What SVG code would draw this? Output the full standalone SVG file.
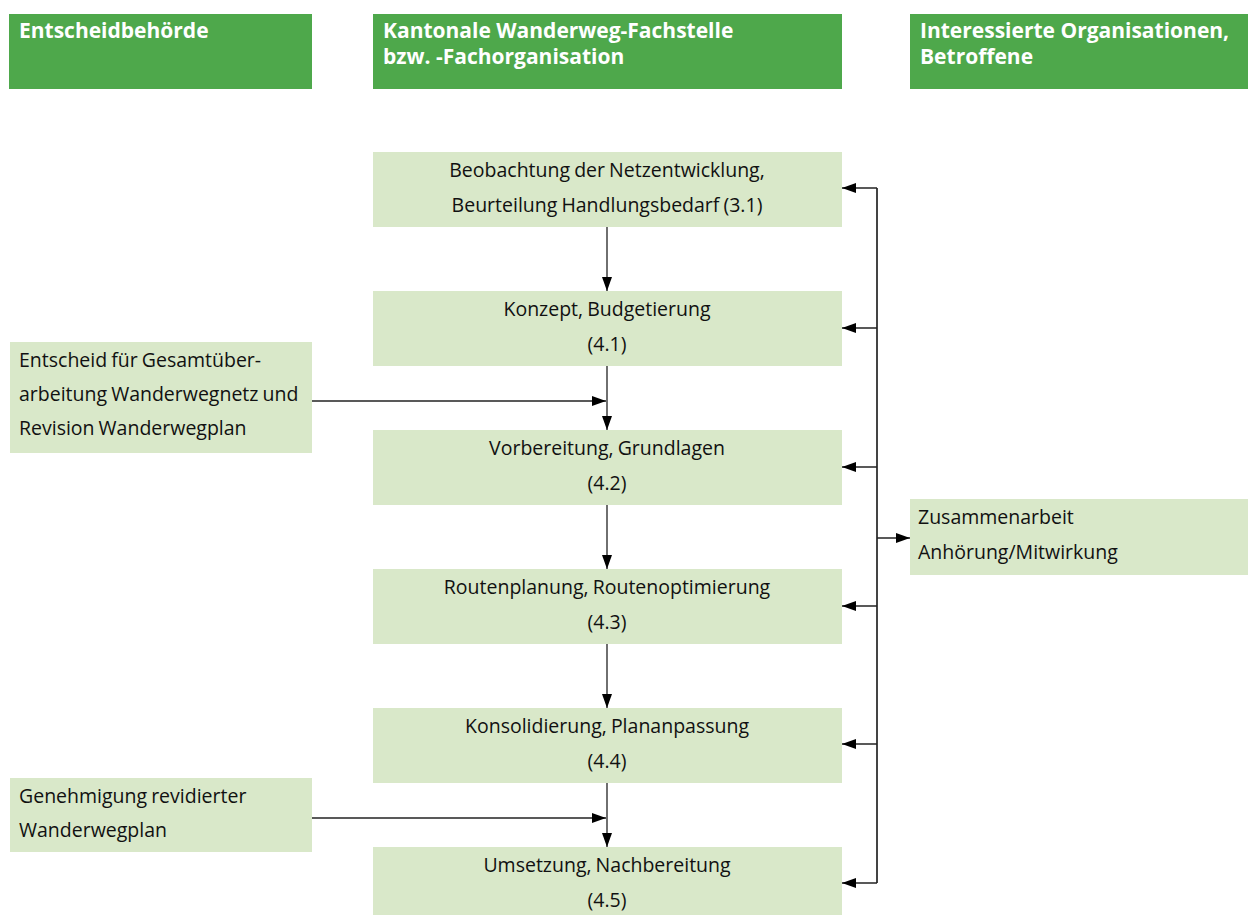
<svg xmlns="http://www.w3.org/2000/svg" width="1248" height="915" viewBox="0 0 1248 915">
<style>
.hdr{fill:#4ea84b}
.hdrt{font-family:"Open Sans","Liberation Sans",sans-serif;font-weight:bold;font-size:21px;fill:#fff}
.box{fill:#d9e8c9}
.t{font-family:"Open Sans","Liberation Sans",sans-serif;font-size:19.5px;fill:#111;word-spacing:-1px}
.c{text-anchor:middle}
.ln{stroke:#222;stroke-width:1.3;fill:none}
.vl{stroke:#444;stroke-width:2;fill:none}
</style>
<defs>
<marker id="ah" markerWidth="14" markerHeight="10" refX="14" refY="5" orient="auto" markerUnits="userSpaceOnUse">
<path d="M0,0 L14,5 L0,10 z" fill="#000"/>
</marker>
</defs>
<rect width="1248" height="915" fill="#fff"/>
<g id="h1"><rect class="hdr" x="9" y="14" width="303" height="75"/><text class="hdrt" x="19" y="38">Entscheidbehörde</text></g>
<g id="h2"><rect class="hdr" x="373" y="14" width="469" height="75"/><text class="hdrt" x="383" y="38">Kantonale Wanderweg-Fachstelle</text><text class="hdrt" x="383" y="64">bzw. -Fachorganisation</text></g>
<g id="h3"><rect class="hdr" x="910" y="14" width="338" height="75"/><text class="hdrt" x="920" y="38">Interessierte Organisationen,</text><text class="hdrt" x="920" y="64">Betroffene</text></g>

<g id="n1"><rect class="box" x="373" y="152" width="469" height="75"/><text class="t c" x="607" y="177">Beobachtung der Netzentwicklung,</text><text class="t c" x="607" y="212">Beurteilung Handlungsbedarf (3.1)</text></g>
<g id="n2"><rect class="box" x="373" y="291" width="469" height="75"/><text class="t c" x="607" y="316">Konzept, Budgetierung</text><text class="t c" x="607" y="351">(4.1)</text></g>
<g id="n3"><rect class="box" x="373" y="430" width="469" height="75"/><text class="t c" x="607" y="455">Vorbereitung, Grundlagen</text><text class="t c" x="607" y="490">(4.2)</text></g>
<g id="n4"><rect class="box" x="373" y="569" width="469" height="75"/><text class="t c" x="607" y="594">Routenplanung, Routenoptimierung</text><text class="t c" x="607" y="629">(4.3)</text></g>
<g id="n5"><rect class="box" x="373" y="708" width="469" height="75"/><text class="t c" x="607" y="733">Konsolidierung, Plananpassung</text><text class="t c" x="607" y="768">(4.4)</text></g>
<g id="n6"><rect class="box" x="373" y="847" width="469" height="68"/><text class="t c" x="607" y="872">Umsetzung, Nachbereitung</text><text class="t c" x="607" y="907">(4.5)</text></g>

<g id="l1"><rect class="box" x="10" y="342" width="302" height="111"/><text class="t" x="19" y="367">Entscheid für Gesamtüber-</text><text class="t" x="19" y="401">arbeitung Wanderwegnetz und</text><text class="t" x="19" y="435">Revision Wanderwegplan</text></g>
<g id="l2"><rect class="box" x="10" y="778" width="302" height="74"/><text class="t" x="19" y="803">Genehmigung revidierter</text><text class="t" x="19" y="837">Wanderwegplan</text></g>

<g id="r1"><rect class="box" x="910" y="499" width="338" height="76"/><text class="t" x="918" y="524">Zusammenarbeit</text><text class="t" x="918" y="559">Anhörung/Mitwirkung</text></g>

<g id="connectors">
<line class="ln" x1="607" y1="227" x2="607" y2="291" marker-end="url(#ah)"/>
<line class="ln" x1="607" y1="366" x2="607" y2="430" marker-end="url(#ah)"/>
<line class="ln" x1="312" y1="401" x2="606" y2="401" marker-end="url(#ah)"/>
<line class="ln" x1="607" y1="505" x2="607" y2="569" marker-end="url(#ah)"/>
<line class="ln" x1="607" y1="644" x2="607" y2="708" marker-end="url(#ah)"/>
<line class="ln" x1="607" y1="783" x2="607" y2="847" marker-end="url(#ah)"/>
<line class="ln" x1="312" y1="818" x2="606" y2="818" marker-end="url(#ah)"/>
<line class="vl" x1="877" y1="188" x2="877" y2="883"/>
<line class="ln" x1="877" y1="188" x2="842" y2="188" marker-end="url(#ah)"/>
<line class="ln" x1="877" y1="328" x2="842" y2="328" marker-end="url(#ah)"/>
<line class="ln" x1="877" y1="467" x2="842" y2="467" marker-end="url(#ah)"/>
<line class="ln" x1="877" y1="606" x2="842" y2="606" marker-end="url(#ah)"/>
<line class="ln" x1="877" y1="744" x2="842" y2="744" marker-end="url(#ah)"/>
<line class="ln" x1="877" y1="883" x2="842" y2="883" marker-end="url(#ah)"/>
<line class="ln" x1="877" y1="538" x2="910" y2="538" marker-end="url(#ah)"/>
</g>
</svg>
